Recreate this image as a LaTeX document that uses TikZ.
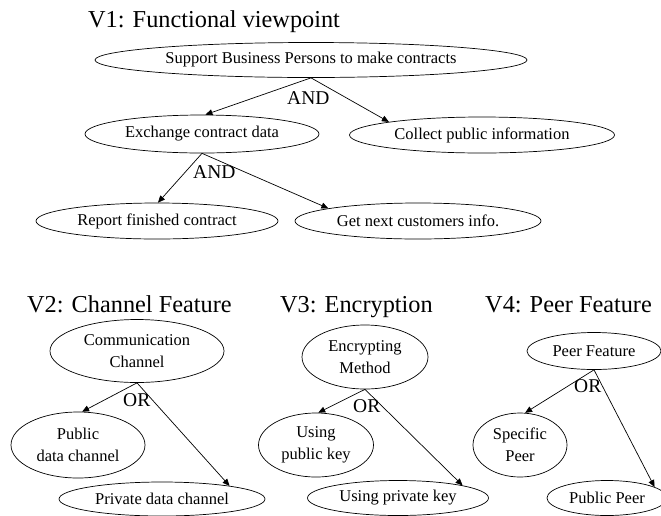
\documentclass[tikz,border=0pt]{standalone}
\usepackage{fontspec}
\setmainfont{Liberation Serif}
\usetikzlibrary{shapes.geometric,arrows.meta}
\tikzset{
  goal/.style={draw,ellipse,inner xsep=-40pt,inner ysep=-6pt,line width=0.7pt,align=center,
    font=\fontsize{16.5}{22}\selectfont},
  arr/.style={line width=0.7pt,-{Triangle[length=7pt,width=6pt]}},
  vtitle/.style={anchor=base west,inner sep=0pt,font=\fontsize{24.3}{28}\selectfont},
  oplabel/.style={anchor=base west,inner sep=0pt,font=\fontsize{19.5}{22}\selectfont}
}
\begin{document}
\begin{tikzpicture}[x=1pt,y=-1pt]
\useasboundingbox (0,0) rectangle (661,515);
% titles
\node[vtitle] (t1) at (88,27) {V1: Functional viewpoint};
\node[vtitle] (t2) at (27,312) {V2: Channel Feature};
\node[vtitle] (t3) at (280,312) {V3: Encryption};
\node[vtitle] (t4) at (485,312) {V4: Peer Feature};
% V1
\node[goal,minimum width=432pt,minimum height=35pt] (top) at (311,60) {Support Business Persons to make contracts};
\node[goal,minimum width=234pt,minimum height=38pt] (ex) at (202,134) {Exchange contract data};
\node[goal,minimum width=265pt,minimum height=36pt] (col) at (482,135) {Collect public information};
\node[goal,minimum width=242pt,minimum height=36pt] (rep) at (157,221) {Report finished contract};
\node[goal,minimum width=246pt,minimum height=36pt] (get) at (418,221) {Get next customers info.};
\draw[arr] (top.south) -- (ex.80);
\draw[arr] (top.south) -- (col.172);
\draw[arr] (ex.south) -- (rep.87);
\draw[arr] (ex.south) -- (get.172);
\node[oplabel] (and1) at (287,104) {AND};
\node[oplabel] (and2) at (193,178) {AND};
% V2
\node[goal,minimum width=174pt,minimum height=63pt] (cc) at (137,351) {Communication\\Channel};
\node[goal,minimum width=134pt,minimum height=66pt] (pub) at (78,445) {Public\\data channel};
\node[goal,minimum width=206pt,minimum height=34pt] (priv) at (162,499) {Private data channel};
\draw[arr] (cc.south) -- (pub.83);
\draw[arr] (cc.south) -- (priv.11);
\node[oplabel] (or2) at (123,406) {OR};
% V3
\node[goal,minimum width=126pt,minimum height=64pt] (em) at (365,357) {Encrypting\\Method};
\node[goal,minimum width=115pt,minimum height=64pt] (puk) at (316,445) {Using\\public key};
\node[goal,minimum width=181pt,minimum height=35pt] (prk) at (398,498) {Using private key};
\draw[arr] (em.south) -- (puk.86);
\draw[arr] (em.south) -- (prk.11);
\node[oplabel] (or3) at (353,412) {OR};
% V4
\node[goal,minimum width=134pt,minimum height=37pt] (pf) at (594,351) {Peer Feature};
\node[goal,minimum width=94pt,minimum height=64pt] (sp) at (520,445) {Specific\\Peer};
\node[goal,minimum width=120pt,minimum height=35pt] (pp) at (607,498) {Public Peer};
\draw[arr] (pf.south) -- (sp.81);
\draw[arr] (pf.south) -- (pp.13);
\node[oplabel] (or4) at (574,392) {OR};
\end{tikzpicture}
\end{document}
